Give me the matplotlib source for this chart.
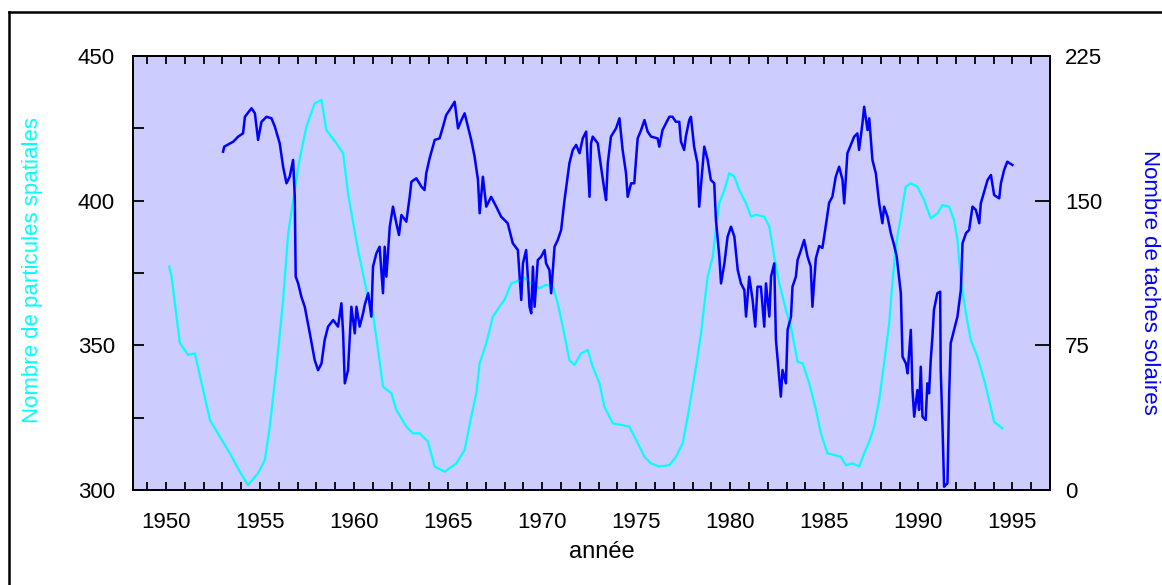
import matplotlib
matplotlib.use("Agg")
import matplotlib.pyplot as plt
from matplotlib.ticker import MultipleLocator
from matplotlib.lines import Line2D

plt.rcParams['font.family'] = ['Liberation Sans', 'DejaVu Sans']

# particules spatiales (axe gauche)
part_years = [1950.18, 1950.3, 1950.74, 1951.18, 1951.54, 1951.9, 1952.34, 1952.87, 1953.4, 1953.93,
              1954.37, 1954.9, 1955.26, 1955.52, 1955.88, 1956.23, 1956.5, 1956.85, 1957.1, 1957.47,
              1957.91, 1958.27, 1958.53, 1959.07, 1959.42, 1959.68, 1960.21, 1960.66, 1961.0, 1961.28,
              1961.54, 1961.99, 1962.25, 1962.78, 1963.13, 1963.49, 1963.93, 1964.29, 1964.82, 1965.44,
              1965.88, 1966.23, 1966.5, 1966.68, 1967.03, 1967.38, 1967.74, 1968.0, 1968.36, 1968.62,
              1968.98, 1969.5, 1969.86, 1970.2, 1970.57, 1970.83, 1971.1, 1971.45, 1971.72, 1972.07,
              1972.43, 1972.69, 1973.05, 1973.31, 1973.76, 1974.2, 1974.64, 1975.0, 1975.44, 1975.79,
              1976.23, 1976.77, 1977.12, 1977.47, 1977.74, 1977.92, 1978.18, 1978.45, 1978.63, 1978.8,
              1979.07, 1979.25, 1979.42, 1979.69, 1979.95, 1980.22, 1980.48, 1980.84, 1981.1, 1981.37,
              1981.81, 1982.08, 1982.34, 1982.61, 1982.96, 1983.23, 1983.58, 1983.85, 1984.2, 1984.56,
              1984.82, 1985.17, 1985.88, 1986.15, 1986.5, 1986.86, 1987.12, 1987.39, 1987.65, 1987.92,
              1988.18, 1988.45, 1988.62, 1988.8, 1989.07, 1989.33, 1989.6, 1989.95, 1990.31, 1990.66,
              1991.02, 1991.28, 1991.64, 1991.9, 1992.08, 1992.26, 1992.53, 1992.79, 1993.14, 1993.5,
              1993.76, 1994.03, 1994.47]
part_vals = [377.2, 373.7, 350.8, 346.7, 347.2, 336.9, 324.2, 318.4, 312.7, 306.3,
             301.7, 305.8, 310.4, 321.9, 342.6, 365.7, 388.7, 403.7, 414.1, 425.6,
             433.6, 434.8, 424.4, 419.8, 416.4, 402.5, 383.0, 369.1, 361.1, 348.4,
             335.7, 333.4, 327.7, 321.9, 319.6, 319.6, 316.7, 308.1, 306.3, 309.2,
             313.8, 325.3, 333.4, 343.8, 350.7, 359.9, 363.4, 365.7, 371.4, 372.0,
             373.7, 370.9, 369.7, 370.9, 370.3, 364.5, 356.4, 344.9, 343.2, 347.2,
             348.4, 342.6, 336.9, 328.8, 323.0, 322.5, 321.9, 317.3, 311.5, 309.2,
             308.1, 308.6, 311.5, 316.1, 325.3, 332.3, 342.6, 354.2, 364.5, 373.7,
             380.6, 391.0, 399.1, 403.7, 409.5, 408.3, 403.7, 399.1, 394.5, 395.1,
             394.5, 391.0, 380.6, 371.4, 362.2, 356.4, 344.3, 343.8, 336.9, 327.7,
             319.6, 312.7, 311.5, 308.6, 309.2, 308.1, 312.7, 316.7, 321.9, 331.1,
             343.8, 357.6, 371.4, 384.1, 394.5, 404.8, 406.0, 404.8, 400.2, 393.9,
             395.6, 398.5, 397.9, 393.3, 386.4, 372.6, 361.1, 351.8, 346.1, 338.0,
             331.1, 323.6, 321.3]

# taches solaires (axe droit)
spot_years = [1953.04, 1953.1, 1953.58, 1953.84, 1954.1, 1954.2, 1954.55, 1954.73, 1954.9, 1955.08,
              1955.35, 1955.61, 1955.79, 1956.05, 1956.23, 1956.41, 1956.58, 1956.76, 1956.85, 1956.9,
              1957.03, 1957.2, 1957.38, 1957.65, 1957.91, 1958.09, 1958.27, 1958.44, 1958.62, 1958.89,
              1959.15, 1959.33, 1959.42, 1959.51, 1959.68, 1959.86, 1960.04, 1960.13, 1960.3, 1960.48,
              1960.57, 1960.75, 1960.92, 1961.01, 1961.19, 1961.36, 1961.45, 1961.54, 1961.63, 1961.72,
              1961.9, 1962.07, 1962.25, 1962.39, 1962.52, 1962.78, 1962.96, 1963.05, 1963.31, 1963.58,
              1963.75, 1963.84, 1964.02, 1964.29, 1964.55, 1964.73, 1964.9, 1965.08, 1965.35, 1965.53,
              1965.71, 1965.88, 1966.23, 1966.41, 1966.59, 1966.68, 1966.85, 1967.03, 1967.29, 1967.56,
              1967.82, 1968.17, 1968.44, 1968.71, 1968.89, 1968.98, 1969.15, 1969.24, 1969.33, 1969.42,
              1969.51, 1969.6, 1969.77, 1969.95, 1970.13, 1970.21, 1970.39, 1970.48, 1970.66, 1970.83,
              1971.01, 1971.19, 1971.45, 1971.63, 1971.81, 1971.99, 1972.16, 1972.34, 1972.52, 1972.6,
              1972.69, 1972.96, 1973.13, 1973.31, 1973.4, 1973.49, 1973.66, 1973.93, 1974.11, 1974.28,
              1974.46, 1974.55, 1974.73, 1974.9, 1974.99, 1975.08, 1975.26, 1975.44, 1975.61, 1975.79,
              1976.14, 1976.23, 1976.4, 1976.58, 1976.76, 1976.93, 1977.11, 1977.29, 1977.38, 1977.55,
              1977.64, 1977.82, 1977.91, 1978.08, 1978.26, 1978.35, 1978.53, 1978.62, 1978.8, 1978.97,
              1979.15, 1979.24, 1979.42, 1979.51, 1979.69, 1979.86, 1980.04, 1980.22, 1980.4, 1980.57,
              1980.75, 1980.84, 1981.01, 1981.19, 1981.33, 1981.45, 1981.63, 1981.81, 1981.9, 1982.08,
              1982.17, 1982.34, 1982.43, 1982.61, 1982.69, 1982.78, 1982.96, 1983.05, 1983.23, 1983.31,
              1983.49, 1983.58, 1983.76, 1983.93, 1984.11, 1984.28, 1984.37, 1984.55, 1984.73, 1984.9,
              1985.08, 1985.26, 1985.43, 1985.61, 1985.79, 1985.97, 1986.06, 1986.23, 1986.41, 1986.59,
              1986.76, 1986.85, 1987.03, 1987.12, 1987.3, 1987.39, 1987.56, 1987.74, 1987.92, 1988.09,
              1988.18, 1988.36, 1988.54, 1988.71, 1988.85, 1989.07, 1989.16, 1989.34, 1989.43, 1989.52,
              1989.6, 1989.69, 1989.78, 1989.95, 1990.04, 1990.13, 1990.22, 1990.39, 1990.48, 1990.57,
              1990.66, 1990.75, 1990.83, 1991.01, 1991.16, 1991.19, 1991.28, 1991.37, 1991.55, 1991.64,
              1991.72, 1991.9, 1992.08, 1992.26, 1992.35, 1992.53, 1992.7, 1992.88, 1993.06, 1993.24,
              1993.32, 1993.5, 1993.68, 1993.86, 1994.03, 1994.3, 1994.39, 1994.56, 1994.73, 1995.0]
spot_vals = [175.4, 178.0, 180.6, 183.2, 184.9, 193.5, 197.9, 195.3, 181.5, 190.9,
             193.5, 192.7, 188.4, 179.7, 167.6, 159.0, 162.4, 171.1, 152.0, 110.6,
             107.1, 100.2, 95.0, 81.2, 67.3, 62.1, 65.6, 77.8, 84.7, 88.1,
             84.7, 96.8, 81.2, 55.3, 62.1, 95.0, 81.2, 95.0, 84.7, 91.6,
             96.0, 102.0, 89.9, 115.8, 122.7, 126.1, 114.0, 102.0, 126.1, 110.6,
             136.5, 146.9, 138.3, 132.2, 142.6, 139.1, 152.0, 159.8, 161.6, 157.3,
             155.5, 164.2, 172.0, 181.5, 182.3, 188.4, 194.4, 197.0, 201.3, 187.5,
             191.8, 195.3, 181.5, 172.8, 160.7, 143.5, 162.4, 146.9, 152.0, 146.9,
             141.7, 138.3, 127.9, 124.4, 98.5, 117.5, 124.4, 110.6, 95.0, 91.6,
             115.8, 95.0, 119.2, 121.0, 124.4, 117.5, 114.0, 102.0, 126.1, 129.6,
             134.8, 150.3, 169.4, 176.3, 178.9, 174.6, 182.3, 185.8, 152.0, 179.7,
             183.2, 179.7, 167.6, 155.5, 150.3, 169.4, 183.2, 187.5, 192.7, 176.3,
             164.2, 152.0, 159.0, 159.0, 171.1, 182.3, 186.6, 191.8, 185.8, 183.2,
             182.3, 178.0, 186.6, 190.1, 193.5, 193.5, 190.9, 190.9, 180.6, 176.3,
             183.2, 191.8, 193.5, 178.0, 169.4, 146.9, 167.6, 178.0, 171.1, 160.7,
             159.0, 140.0, 121.0, 107.1, 117.5, 131.3, 136.5, 131.3, 114.0, 107.1,
             103.7, 89.9, 110.6, 98.5, 84.7, 105.4, 105.4, 84.7, 107.1, 89.9,
             110.6, 117.5, 77.8, 57.0, 48.4, 62.2, 55.3, 83.0, 89.9, 105.4,
             110.6, 119.2, 124.4, 129.6, 121.0, 115.8, 95.0, 120.0, 126.5, 125.5,
             137.0, 149.0, 152.0, 162.4, 167.6, 160.7, 148.6, 174.6, 178.9, 183.2,
             184.9, 176.3, 190.1, 198.7, 186.6, 192.7, 171.1, 164.2, 148.6, 138.3,
             146.9, 141.7, 133.1, 127.0, 121.0, 102.0, 69.1, 65.6, 60.5, 72.6,
             83.0, 51.8, 38.0, 51.8, 41.5, 63.9, 38.0, 36.3, 55.3, 50.1,
             67.4, 79.5, 93.3, 102.0, 102.8, 62.2, 34.6, 1.7, 3.5, 50.1,
             76.1, 83.0, 89.9, 103.7, 127.9, 133.1, 134.8, 146.9, 145.2, 138.3,
             148.6, 154.7, 160.7, 163.3, 152.9, 151.2, 159.0, 165.9, 170.2, 168.5]

year_ticks = [1950, 1955, 1960, 1965, 1970, 1975, 1980, 1985, 1990, 1995]
left_ticks = [300, 350, 400, 450]
right_ticks = [0, 75, 150, 225]

cyan = '#00FFFF'
blue = '#0000FF'

fig = plt.figure(figsize=(11.62, 5.85), dpi=100)
ax = fig.add_axes([133 / 1162, 95 / 585, 917 / 1162, 434 / 585])
ax.set_facecolor('#CCCCFF')
ax2 = ax.twinx()

ax.plot(part_years, part_vals, color=cyan, lw=1.6, zorder=3)
ax2.plot(spot_years, spot_vals, color=blue, lw=1.8, zorder=3)

ax.set_xlim(1948.25, 1997.0)
ax.set_ylim(300, 450)
ax2.set_ylim(0, 225)

ax.set_xticks(year_ticks)
ax.xaxis.set_minor_locator(MultipleLocator(1))
ax.set_yticks(left_ticks)
ax.yaxis.set_minor_locator(MultipleLocator(25))
ax2.set_yticks(right_ticks)

ax.tick_params(axis='x', which='both', direction='in', top=True, length=6, width=1.3,
               labelsize=16, pad=16, color='black')
ax.tick_params(axis='y', which='both', direction='in', length=8, width=1.3,
               labelsize=16, pad=13)
ax2.tick_params(axis='y', direction='in', length=11, width=1.3, labelsize=16, pad=11)

for a in (ax, ax2):
    for sp in a.spines.values():
        sp.set_linewidth(1.3)
        sp.set_color('black')

# titres des axes
fig.text(33 / 1162, 1 - 270 / 585, 'Nombre de particules spatiales', color=cyan,
         rotation=90, ha='center', va='center', fontsize=16)
fig.text(1150 / 1162, 1 - 282 / 585, 'Nombre de taches solaires', color=blue,
         rotation=270, ha='center', va='center', fontsize=16)
fig.text(602 / 1162, 1 - 552 / 585, 'année', color='black', ha='center', va='center', fontsize=17)

# cadre
fig.add_artist(Line2D([9 / 1162, 1.0], [1 - 12 / 585, 1 - 12 / 585], color='black', lw=1.8,
                      transform=fig.transFigure))
fig.add_artist(Line2D([9 / 1162, 9 / 1162], [0, 1 - 12 / 585], color='black', lw=1.8,
                      transform=fig.transFigure))

fig.savefig('out.png', dpi=100)
